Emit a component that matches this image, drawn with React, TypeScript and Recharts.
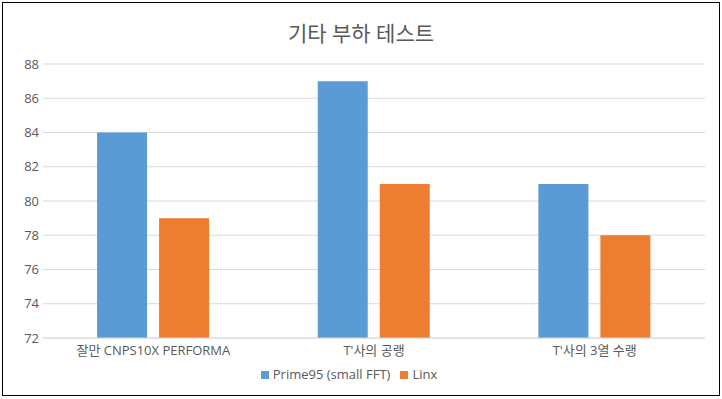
import { Bar, BarChart, CartesianGrid, Legend, XAxis, YAxis } from "recharts";

const CATEGORIES = ["잘만 CNPS10X PERFORMA", "T'사의 공랭", "T'사의 3열 수랭"];
const PRIME95 = [84, 87, 81];
const LINX = [79, 81, 78];
const Y_TICKS = [72, 74, 76, 78, 80, 82, 84, 86, 88];

const data = CATEGORIES.map((name, i) => ({
  name,
  prime: PRIME95[i],
  linx: LINX[i],
}));

const FONT = "'Open Sans', 'Noto Sans CJK KR', sans-serif";
const TEXT = "#595959";
const ORDER = ["prime", "linx"];

export default function App() {
  return (
    <div
      style={{
        position: "absolute",
        left: 2,
        top: 2,
        width: 716,
        height: 392,
        border: "1px solid #000",
        background: "#fff",
        fontFamily: FONT,
      }}
    >
      <style>{"body{margin:0}"}</style>
      <div
        style={{
          position: "absolute",
          top: 14,
          left: 0,
          width: "100%",
          textAlign: "center",
          fontSize: 21,
          color: TEXT,
        }}
      >
        기타 부하 테스트
      </div>
      <BarChart
        width={716}
        height={392}
        data={data}
        margin={{ top: 61, right: 14, left: 0, bottom: 2 }}
        barCategoryGap="24.5%"
        barGap={12}
      >
        <CartesianGrid stroke="#d9d9d9" vertical={false} />
        <XAxis
          dataKey="name"
          height={24}
          tick={{ fontSize: 13, fill: TEXT }}
          tickMargin={2}
          axisLine={{ stroke: "#d9d9d9" }}
          tickLine={false}
        />
        <YAxis
          width={40}
          domain={[72, 88]}
          ticks={Y_TICKS}
          tick={{ fontSize: 13, fill: TEXT, dx: 4 }}
          axisLine={false}
          tickLine={false}
        />
        <Legend
          verticalAlign="bottom"
          height={31}
          iconType="square"
          iconSize={8}
          itemSorter={(item: any) => ORDER.indexOf(String(item.dataKey))}
          formatter={(v) => <span style={{ color: TEXT, fontSize: 13 }}>{v}</span>}
          wrapperStyle={{ fontFamily: FONT }}
        />
        <Bar dataKey="prime" name="Prime95 (small FFT)" fill="#5B9BD5" isAnimationActive={false} />
        <Bar dataKey="linx" name="Linx" fill="#ED7D31" isAnimationActive={false} />
      </BarChart>
    </div>
  );
}
